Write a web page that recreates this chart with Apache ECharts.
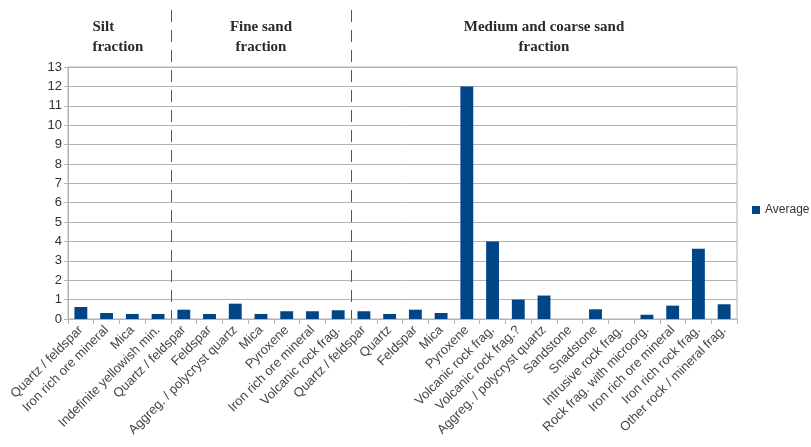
<!DOCTYPE html>
<html>
<head>
<meta charset="utf-8">
<script src="https://cdn.jsdelivr.net/npm/echarts@6/dist/echarts.min.js"></script>
<style>
  html, body { margin: 0; padding: 0; background: #ffffff; }
  #chart { width: 811px; height: 447px; }
</style>
</head>
<body>
<div id="chart"></div>
<script>
// Grain categories, listed fraction by fraction
const categories = [
  'Quartz / feldspar', 'Iron rich ore mineral', 'Mica', 'Indefinite yellowish min.',
  'Quartz / feldspar', 'Feldspar', 'Aggreg. / polycryst quartz', 'Mica', 'Pyroxene',
  'Iron rich ore mineral', 'Volcanic rock frag.',
  'Quartz / feldspar', 'Quartz', 'Feldspar', 'Mica', 'Pyroxene', 'Volcanic rock frag.',
  'Volcanic rock frag.?', 'Aggreg. / polycryst quartz', 'Sandstone', 'Snadstone',
  'Intrusive rock frag.', 'Rock frag. with microorg.', 'Iron rich ore mineral',
  'Iron rich rock frag.', 'Other rock / mineral frag.'
];

// Average value per category
const averages = [
  0.62, 0.31, 0.26, 0.26,
  0.48, 0.26, 0.79, 0.26, 0.40, 0.40, 0.45,
  0.40, 0.26, 0.48, 0.31, 12.0, 4.0, 1.0, 1.21, 0, 0.5, 0, 0.22, 0.69, 3.62, 0.76
];

// Fraction groups: heading text and number of categories in each
const fractionNames = ['Silt\nfraction', 'Fine sand\nfraction', 'Medium and coarse sand\nfraction'];
const fractionSizes = [4, 7, 15];

// Value axis ticks
const yMin = 0, yMax = 13, yStep = 1;

const chart = echarts.init(document.getElementById('chart'));

const gridColor = '#b3b3b3';
const labelColor = '#333333';

chart.setOption({
  animation: false,
  backgroundColor: '#ffffff',
  grid: { left: 68, right: 74, top: 67, bottom: 128, outerBoundsMode: 'none', show: true, borderColor: gridColor, borderWidth: 1 },
  legend: {
    data: ['Average'],
    left: 747, top: 199,
    icon: 'rect', itemWidth: 8, itemHeight: 8, itemGap: 5,
    textStyle: { fontFamily: 'Liberation Sans', fontSize: 12, color: labelColor }
  },
  xAxis: {
    type: 'category',
    data: categories,
    axisLine: { lineStyle: { color: gridColor } },
    axisTick: { show: true, length: 5, lineStyle: { color: gridColor } },
    axisLabel: {
      interval: 0, rotate: 45, margin: 9,
      fontFamily: 'Liberation Sans', fontSize: 13, color: '#474747'
    },
    splitLine: { show: false }
  },
  yAxis: {
    type: 'value',
    min: yMin, max: yMax, interval: yStep,
    axisLine: { show: true, lineStyle: { color: gridColor } },
    axisTick: { show: true, length: 4, lineStyle: { color: gridColor } },
    axisLabel: { fontFamily: 'Liberation Sans', fontSize: 13, color: labelColor, margin: 6 },
    splitLine: { lineStyle: { color: gridColor, width: 1 } }
  },
  series: [{
    name: 'Average',
    type: 'bar',
    data: averages,
    barWidth: '50%',
    itemStyle: { color: '#004586' }
  }]
});

// Fraction separators and headings, placed from the category axis scale
function drawFractions() {
  const xAt = i => chart.convertToPixel({ xAxisIndex: 0 }, i);
  const step = xAt(1) - xAt(0);
  const edge = i => xAt(i) - step / 2;
  const baseY = chart.convertToPixel({ yAxisIndex: 0 }, yMin);
  const elements = [];
  let start = 0;
  fractionSizes.forEach((n, k) => {
    const left = edge(start);
    const right = edge(start) + n * step;
    const center = (left + right) / 2;
    const leftAligned = k === 0;
    elements.push({
      type: 'text',
      silent: true,
      style: {
        text: fractionNames[k],
        x: leftAligned ? center - 27 : center,
        y: 17,
        align: leftAligned ? 'left' : 'center',
        verticalAlign: 'top',
        lineHeight: 20,
        fontFamily: 'Liberation Serif',
        fontWeight: 'bold',
        fontSize: 15,
        fill: '#2a2a2a'
      }
    });
    if (k > 0) {
      elements.push({
        type: 'line',
        silent: true,
        shape: { x1: Math.round(left) + 0.5, y1: 10, x2: Math.round(left) + 0.5, y2: baseY },
        style: { stroke: '#555555', lineWidth: 1, lineDash: [12, 8] }
      });
    }
    start += n;
  });
  chart.setOption({ graphic: elements });
}
drawFractions();
</script>
</body>
</html>
